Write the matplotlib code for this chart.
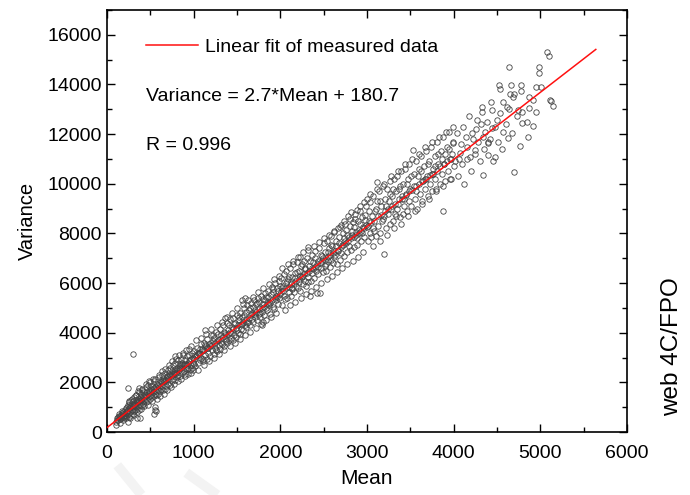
import numpy as np
import matplotlib.pyplot as plt
from matplotlib.ticker import MultipleLocator
from matplotlib.lines import Line2D

plt.rcParams['font.family'] = ['Liberation Sans', 'DejaVu Sans']

# fit shown in the chart
SLOPE = 2.7
INTERCEPT = 180.7
FIT_RANGE = [0, 5640]

# measured points (mean, variance)
low_range = [
    (105, 420), (120, 560), (130, 470), (140, 640), (150, 520), (160, 700), (165, 560), (175, 760),
    (180, 600), (190, 830), (195, 640), (200, 560), (205, 900), (210, 700), (220, 980), (225, 650),
    (230, 820), (240, 1100), (242, 400), (242, 1770), (245, 740), (250, 960), (255, 600), (260, 1200),
    (265, 800), (270, 1050), (275, 700), (280, 1300), (285, 880), (290, 1150), (295, 750), (300, 3140),
    (300, 1000), (305, 1250), (310, 850), (315, 1400), (320, 1100), (325, 900), (330, 1300), (335, 1020),
    (340, 1500), (345, 950), (350, 560), (350, 1200), (355, 1350), (360, 1050), (365, 1600), (370, 1770),
    (370, 900), (375, 1250), (380, 560), (380, 1420), (385, 1100), (390, 1550), (395, 1300), (400, 1050),
    (405, 1700), (410, 1200), (415, 1450), (420, 1150), (425, 1600), (430, 1280), (440, 1500), (445, 1200),
    (450, 1800), (455, 1350), (460, 1600), (470, 1250), (475, 1900), (480, 1450), (490, 1700), (495, 1350),
    (500, 2000), (505, 1500), (510, 1750), (520, 1400), (525, 1850), (530, 1600), (540, 750), (540, 2050),
    (545, 1450), (550, 900), (550, 1800), (555, 1550), (560, 1000), (560, 2150), (565, 1650), (570, 850),
    (570, 1500), (580, 1950), (585, 1700), (590, 1550), (600, 2200), (605, 1800), (610, 1650), (620, 2050),
    (625, 1750), (630, 2300), (640, 1850), (645, 1700), (650, 2150), (660, 2000), (665, 1750), (670, 2400),
    (680, 2100), (685, 1850), (690, 2250), (700, 2500), (705, 1950), (710, 2150), (720, 2350), (725, 1900),
    (730, 2600), (740, 2250), (745, 2050), (750, 2450), (760, 2700), (765, 2150), (770, 2350), (780, 2550),
    (785, 3060), (785, 2100), (790, 2800), (800, 2400), (805, 2200), (810, 2600), (820, 2900), (825, 2300),
    (830, 2500), (840, 2750), (845, 2250), (850, 2950), (860, 2600), (865, 2400), (870, 2800), (880, 3100),
    (885, 2450), (890, 2700), (900, 2900), (905, 2350), (910, 2750), (920, 3050), (925, 2550), (930, 2800),
    (940, 2600), (950, 3100), (955, 2500), (960, 2900), (970, 2700), (980, 3200), (985, 2600), (990, 3000),
    (1000, 2750),
    (110, 300), (135, 720), (155, 380), (170, 850), (185, 480), (215, 560), (235, 1000), (250, 1250),
    (270, 560), (290, 1350), (310, 700), (330, 1480), (345, 800), (360, 1650), (390, 950), (410, 1750),
    (430, 1050), (450, 1950), (470, 1100), (490, 2050), (515, 1250), (535, 2150), (575, 1350), (595, 2300),
    (615, 1450), (635, 2450), (655, 1550), (675, 2550), (695, 1700), (715, 2700), (735, 1800), (755, 2850),
    (775, 1950), (795, 2950), (815, 2050), (835, 3100), (855, 2150), (875, 3200), (895, 2250), (915, 3300),
    (935, 2350), (945, 3350), (965, 2400), (975, 3450), (995, 2500),
    (112, 480), (128, 600), (148, 590), (168, 650), (188, 720), (208, 780), (228, 840), (248, 880),
    (268, 960), (288, 1020), (308, 1080), (328, 1120), (348, 1180), (368, 1240), (388, 1300), (408, 1360),
    (428, 1420), (448, 1480), (468, 1550), (488, 1600), (508, 1650), (528, 1720), (548, 1780), (568, 1830),
    (588, 1880), (608, 1950), (628, 2000), (648, 2050), (668, 2100), (688, 2200), (708, 2250), (728, 2300),
    (748, 2350), (768, 2400), (788, 2450), (808, 2500), (828, 2600), (848, 2650), (868, 2700), (888, 2750),
    (908, 2600), (928, 2700), (948, 2850), (968, 2950), (988, 2800),
]

mid_range = [
    (1010, 3250), (1020, 2650), (1030, 3050), (1040, 3400), (1050, 2800), (1060, 3200), (1070, 2900),
    (1080, 3550), (1090, 3000), (1100, 3350), (1110, 2850), (1120, 3600), (1130, 3100), (1130, 4110),
    (1140, 3450), (1150, 2950), (1160, 3750), (1170, 3200), (1180, 3550), (1190, 3050), (1200, 3900),
    (1210, 3300), (1220, 3650), (1230, 3150), (1240, 3800), (1250, 3400), (1260, 4050), (1270, 3250),
    (1280, 3700), (1290, 3500), (1300, 4150), (1310, 3350), (1320, 3900), (1330, 3550), (1340, 4300),
    (1350, 3450), (1360, 4590), (1360, 4000), (1370, 3650), (1380, 4400), (1390, 3600), (1400, 4100),
    (1410, 3700), (1420, 4550), (1430, 3800), (1440, 4250), (1450, 3700), (1460, 4600), (1470, 3900),
    (1480, 4400), (1490, 3850), (1500, 4700), (1510, 4000), (1520, 4500), (1530, 3950), (1540, 4800),
    (1550, 4150), (1560, 5300), (1560, 4650), (1570, 4100), (1580, 5000), (1590, 5400), (1590, 4300),
    (1600, 4850), (1610, 4250), (1620, 5100), (1630, 4450), (1640, 4900), (1650, 4300), (1660, 5200),
    (1670, 4550), (1680, 5050), (1690, 4450), (1700, 5300), (1710, 4650), (1720, 5150), (1730, 4500),
    (1740, 5400), (1750, 4750), (1760, 5250), (1770, 4650), (1780, 5500), (1790, 4300), (1790, 4850),
    (1800, 4450), (1800, 5350), (1810, 4700), (1820, 5600), (1830, 5000), (1840, 5450), (1850, 4900),
    (1860, 5700), (1870, 5100), (1880, 4750), (1890, 5550), (1900, 5850), (1910, 5050), (1920, 5650),
    (1930, 4950), (1940, 6000), (1950, 5300), (1960, 5800), (1970, 5150), (1980, 6100), (1990, 5400),
    (2000, 5900),
    (1015, 3100), (1045, 3200), (1075, 3350), (1105, 2950), (1135, 3500), (1165, 3400), (1195, 3600),
    (1225, 3900), (1255, 3300), (1285, 3950), (1315, 3600), (1345, 4050), (1375, 3750), (1405, 4300),
    (1435, 4000), (1465, 4350), (1495, 4100), (1525, 4650), (1555, 4350), (1585, 4700), (1615, 4400),
    (1645, 5000), (1675, 4800), (1705, 4900), (1735, 5200), (1765, 4800), (1795, 5150), (1825, 5300),
    (1855, 5450), (1885, 5200), (1915, 5750), (1945, 5500), (1975, 5700),
    (1025, 3700), (1055, 2500), (1085, 3800), (1115, 2700), (1145, 3950), (1175, 2850), (1205, 4150),
    (1235, 3000), (1265, 4300), (1295, 3150), (1325, 4450), (1355, 3300), (1385, 4650), (1415, 3450),
    (1445, 4800), (1475, 3600), (1505, 5000), (1535, 3750), (1565, 5150), (1595, 3900), (1625, 5300),
    (1655, 4050), (1685, 5450), (1715, 4200), (1745, 5650), (1775, 4350), (1805, 5800), (1835, 4500),
    (1865, 5950), (1895, 4650), (1925, 6150), (1955, 4800), (1985, 6300),
    (1005, 2950), (1035, 3100), (1065, 3150), (1095, 3250), (1125, 3300), (1155, 3400), (1185, 3450),
    (1215, 3500), (1245, 3600), (1275, 3650), (1305, 3750), (1335, 3850), (1365, 3900), (1395, 3950),
    (1425, 4050), (1455, 4150), (1485, 4200), (1515, 4300), (1545, 4350), (1575, 4450), (1605, 4550),
    (1635, 4600), (1665, 4700), (1695, 4750), (1725, 4850), (1755, 4950), (1785, 5000), (1815, 5050),
    (1845, 5150), (1875, 5250), (1905, 5300), (1935, 5400), (1965, 5450), (1995, 5550),
]

upper_range = [
    (2010, 6200), (2020, 5100), (2030, 5900), (2040, 6350), (2050, 5350), (2060, 6000), (2070, 6500),
    (2080, 5400), (2090, 6150), (2100, 5650), (2110, 6600), (2120, 5500), (2130, 6250), (2140, 5750),
    (2150, 6750), (2160, 5650), (2170, 6400), (2180, 5900), (2190, 6850), (2200, 5800), (2210, 6500),
    (2220, 6050), (2227, 7050), (2230, 5700), (2240, 6700), (2250, 6300), (2260, 5950), (2270, 6900),
    (2280, 6100), (2290, 6550), (2300, 5900), (2310, 7000), (2320, 7450), (2320, 6250), (2330, 6700),
    (2342, 5480), (2350, 6100), (2360, 7150), (2370, 6400), (2380, 6850), (2390, 6200), (2400, 7300),
    (2410, 6500), (2423, 5600), (2430, 6900), (2440, 6350), (2450, 7400), (2458, 5600), (2470, 6600),
    (2480, 7100), (2490, 6450), (2500, 7600), (2510, 6700), (2520, 7250), (2530, 6500), (2540, 7700),
    (2550, 6900), (2560, 7400), (2570, 6650), (2580, 7900), (2590, 6950), (2600, 7500), (2610, 6800),
    (2620, 8050), (2630, 7150), (2640, 7700), (2650, 6750), (2660, 8200), (2670, 7300), (2680, 7850),
    (2690, 6950), (2700, 8350), (2710, 7550), (2720, 8000), (2730, 7100), (2740, 8500), (2750, 7700),
    (2760, 8150), (2770, 7250), (2780, 8700), (2790, 7850), (2800, 8300), (2810, 7350), (2820, 8850),
    (2830, 7950), (2840, 8450), (2850, 7450), (2860, 8600), (2870, 8050), (2880, 8950), (2890, 7550),
    (2900, 8500), (2910, 8150), (2920, 9100), (2930, 7700), (2940, 8650), (2950, 8250), (2960, 9250),
    (2970, 7850), (2980, 8750), (2990, 8350), (3000, 9400),
    (2015, 5800), (2045, 5500), (2075, 6100), (2105, 6250), (2135, 5800), (2165, 6200), (2195, 6450),
    (2225, 6300), (2255, 6750), (2285, 6600), (2315, 6050), (2345, 6900), (2375, 6550), (2405, 7000),
    (2435, 6650), (2465, 7150), (2495, 7000), (2525, 6750), (2555, 7250), (2585, 7550), (2615, 7050),
    (2645, 7500), (2675, 7600), (2705, 7200), (2735, 7800), (2765, 7950), (2795, 7500), (2825, 8100),
    (2855, 8250), (2885, 7800), (2915, 8400), (2945, 8000), (2975, 8550),
    (2025, 6600), (2055, 4900), (2085, 6750), (2115, 5100), (2145, 6900), (2175, 5250), (2205, 7050),
    (2235, 5400), (2265, 7250), (2295, 5550), (2325, 7350), (2355, 5700), (2385, 7500), (2415, 5850),
    (2445, 7650), (2475, 6000), (2505, 7800), (2535, 6150), (2565, 7950), (2595, 6300), (2625, 8100),
    (2655, 6450), (2685, 8250), (2715, 6600), (2745, 8400), (2775, 6750), (2805, 8600), (2835, 6900),
    (2865, 8800), (2895, 7050), (2925, 8900), (2955, 7250), (2985, 9100),
    (2005, 5650), (2035, 5700), (2065, 5800), (2095, 5850), (2125, 5950), (2155, 6000), (2185, 6100),
    (2215, 6150), (2245, 6250), (2275, 6350), (2305, 6400), (2335, 6500), (2365, 6600), (2395, 6650),
    (2425, 6750), (2455, 6800), (2485, 6900), (2515, 6950), (2545, 7050), (2575, 7150), (2605, 7200),
    (2635, 7300), (2665, 7350), (2695, 7450), (2725, 7550), (2755, 7600), (2785, 7700), (2815, 7800),
    (2845, 7850), (2875, 7950), (2905, 8000), (2935, 8100), (2965, 8200), (2995, 8250),
]

high_range = [
    (3010, 7700), (3020, 8900), (3030, 8000), (3040, 9250), (3050, 7850), (3060, 8700), (3070, 9500),
    (3080, 8100), (3090, 8900), (3100, 7900), (3115, 10070), (3120, 9300), (3130, 8300), (3140, 9700),
    (3150, 8000), (3160, 9100), (3170, 8500), (3180, 9900), (3196, 7170), (3200, 8700), (3210, 9400),
    (3220, 8200), (3230, 9800), (3240, 8800), (3250, 9300), (3260, 8400), (3270, 10100), (3280, 9000),
    (3290, 9500), (3300, 8500), (3310, 10200), (3320, 8800), (3330, 9700), (3340, 8700), (3350, 10300),
    (3360, 9200), (3370, 9800), (3380, 8650), (3390, 10500), (3400, 9400), (3410, 8800), (3420, 10000),
    (3430, 9100), (3440, 10600), (3450, 9600), (3460, 8900), (3470, 10200), (3480, 9300), (3490, 10800),
    (3500, 9800), (3510, 9100), (3530, 11360), (3540, 10400), (3550, 9400), (3560, 10900), (3570, 9700),
    (3580, 9000), (3600, 10600), (3610, 9600), (3620, 11100), (3630, 10100), (3640, 9300), (3660, 10700),
    (3670, 9800), (3680, 11300), (3690, 10300), (3700, 9500), (3720, 10900), (3730, 10000), (3740, 11500),
    (3750, 9700), (3760, 10600), (3780, 11100), (3790, 10200), (3800, 9800), (3810, 11700), (3820, 10800),
    (3840, 10000), (3850, 11300), (3860, 10400), (3877, 8900), (3880, 11900), (3890, 10800), (3900, 10100),
    (3920, 11500), (3930, 10500), (3950, 12100), (3960, 11000), (3970, 10200), (3990, 11700), (4000, 10700),
    (3025, 8500), (3065, 8200), (3105, 9000), (3145, 9300), (3185, 8600), (3225, 9100), (3265, 9600),
    (3305, 9800), (3345, 9000), (3385, 9900), (3425, 9400), (3465, 10000), (3505, 10300), (3545, 9900),
    (3585, 10300), (3625, 10500), (3665, 10200), (3705, 10800), (3745, 10400), (3785, 10700), (3825, 11200),
    (3865, 11000), (3905, 11200), (3945, 11400), (3985, 11200),
    (3035, 9600), (3075, 7500), (3115, 9800), (3155, 7700), (3195, 10000), (3235, 7950), (3275, 10300),
    (3315, 8200), (3355, 10500), (3395, 8400), (3435, 10800), (3475, 8700), (3515, 11000), (3555, 8900),
    (3595, 11200), (3635, 9200), (3675, 11500), (3715, 9400), (3755, 11700), (3795, 9700), (3835, 11900),
    (3875, 9900), (3915, 12100), (3955, 10200), (3995, 12300),
    (3015, 8300), (3045, 8450), (3085, 8500), (3125, 8700), (3165, 8750), (3205, 8900), (3245, 9000),
    (3285, 9100), (3325, 9200), (3365, 9400), (3405, 9500), (3445, 9550), (3485, 9700), (3525, 9750),
    (3565, 9900), (3605, 10000), (3645, 10100), (3685, 10200), (3725, 10350), (3765, 10400), (3805, 10500),
    (3845, 10700), (3885, 10800), (3925, 10900), (3965, 11000),
]

top_range = [
    (5077, 15310), (5100, 15150), (4638, 14700), (4985, 14700), (4985, 14460), (4523, 13980),
    (4535, 13820), (4661, 13980), (4777, 13980), (4777, 13740), (4950, 13900), (4650, 13620),
    (4696, 13620), (4685, 13500), (4430, 13300), (4570, 13300), (4870, 13500), (4915, 13380),
    (5123, 13340), (5146, 13130), (4950, 12890), (4870, 13050), (4790, 12890), (4742, 12970),
    (4638, 13010), (4615, 13090), (4327, 13090), (4327, 12890), (4442, 12970), (4535, 12850),
    (4730, 12730), (4790, 12450), (4846, 12490), (4915, 12330), (4177, 12730), (4269, 12570),
    (4385, 12490), (4500, 12570), (4442, 12250), (4570, 12090), (4673, 12050), (4627, 11850),
    (4858, 11890), (4108, 12290), (4038, 12050), (4212, 12050), (4338, 11890), (4281, 11680),
    (4396, 11640), (4512, 11680), (4765, 11520), (3992, 11640), (4154, 11480), (4246, 11360),
    (4396, 11160), (4477, 11080), (4073, 11240), (4188, 11080), (4696, 10470), (5112, 13380),
    (5008, 13900), (4050, 10300), (4100, 10800), (4150, 11000), (4200, 10500), (4250, 11200),
    (4300, 10900), (4338, 10350), (4350, 11400), (4400, 11700), (4450, 10900), (4060, 11000),
    (4120, 10000), (4220, 11800), (4140, 11900), (4020, 10900), (4080, 11600), (4260, 12200),
    (4360, 12100), (4480, 12300), (4560, 11400), (4600, 12400), (4420, 11800), (4310, 12400),
]

X_TICKS = [0, 1000, 2000, 3000, 4000, 5000, 6000]
Y_TICKS = [0, 2000, 4000, 6000, 8000, 10000, 12000, 14000, 16000]

fig = plt.figure(figsize=(6.9, 4.95), dpi=100)
ax = fig.add_axes([0.155, 0.127, 0.7537, 0.853])

for seg in [low_range, mid_range, upper_range, high_range, top_range]:
    m = [p[0] for p in seg]
    v = [p[1] for p in seg]
    ax.plot(m, v, 'o', mfc='none', mec='#444444', ms=3.9, mew=0.6, zorder=2)

fit_x = np.array(FIT_RANGE)
ax.plot(fit_x, SLOPE * fit_x + INTERCEPT, color='#ff1010', lw=1.1, zorder=3,
        label='Linear fit of measured data')

ax.set_xlim(0, 6000)
ax.set_ylim(0, 17000)
ax.set_xticks(X_TICKS)
ax.set_yticks(Y_TICKS)
ax.xaxis.set_minor_locator(MultipleLocator(500))
ax.yaxis.set_minor_locator(MultipleLocator(1000))
ax.tick_params(which='both', direction='in', top=True, right=True, labelsize=14, width=1)
ax.tick_params(which='major', length=6)
ax.tick_params(which='minor', length=3.5)
ax.tick_params(axis='x', which='major', pad=9)
for s in ax.spines.values():
    s.set_linewidth(1.2)

ax.set_xlabel('Mean', fontsize=15, labelpad=5)
ax.set_ylabel('Variance', fontsize=14.5, labelpad=8)

ax.legend(loc='center left', bbox_to_anchor=(0.075, 0.912), frameon=False, fontsize=14,
          handlelength=2.7, handletextpad=0.36, borderpad=0, borderaxespad=0)
ax.text(0.075, 0.794, 'Variance = 2.7*Mean + 180.7', transform=ax.transAxes, fontsize=14,
        va='center')
ax.text(0.075, 0.68, 'R = 0.996', transform=ax.transAxes, fontsize=14, va='center')

fig.text(0.974, 0.299, 'web 4C/FPO', rotation=90, ha='center', va='center', fontsize=17.5)

# faint watermark strokes at the bottom edge
for xs, ys in [([0.17, 0.205], [0.06, 0.0]), ([0.27, 0.315], [0.045, 0.0])]:
    fig.add_artist(Line2D(xs, ys, transform=fig.transFigure, color='#f3f3f3', lw=7,
                          solid_capstyle='butt', zorder=0))

fig.savefig('out.png', dpi=100)
